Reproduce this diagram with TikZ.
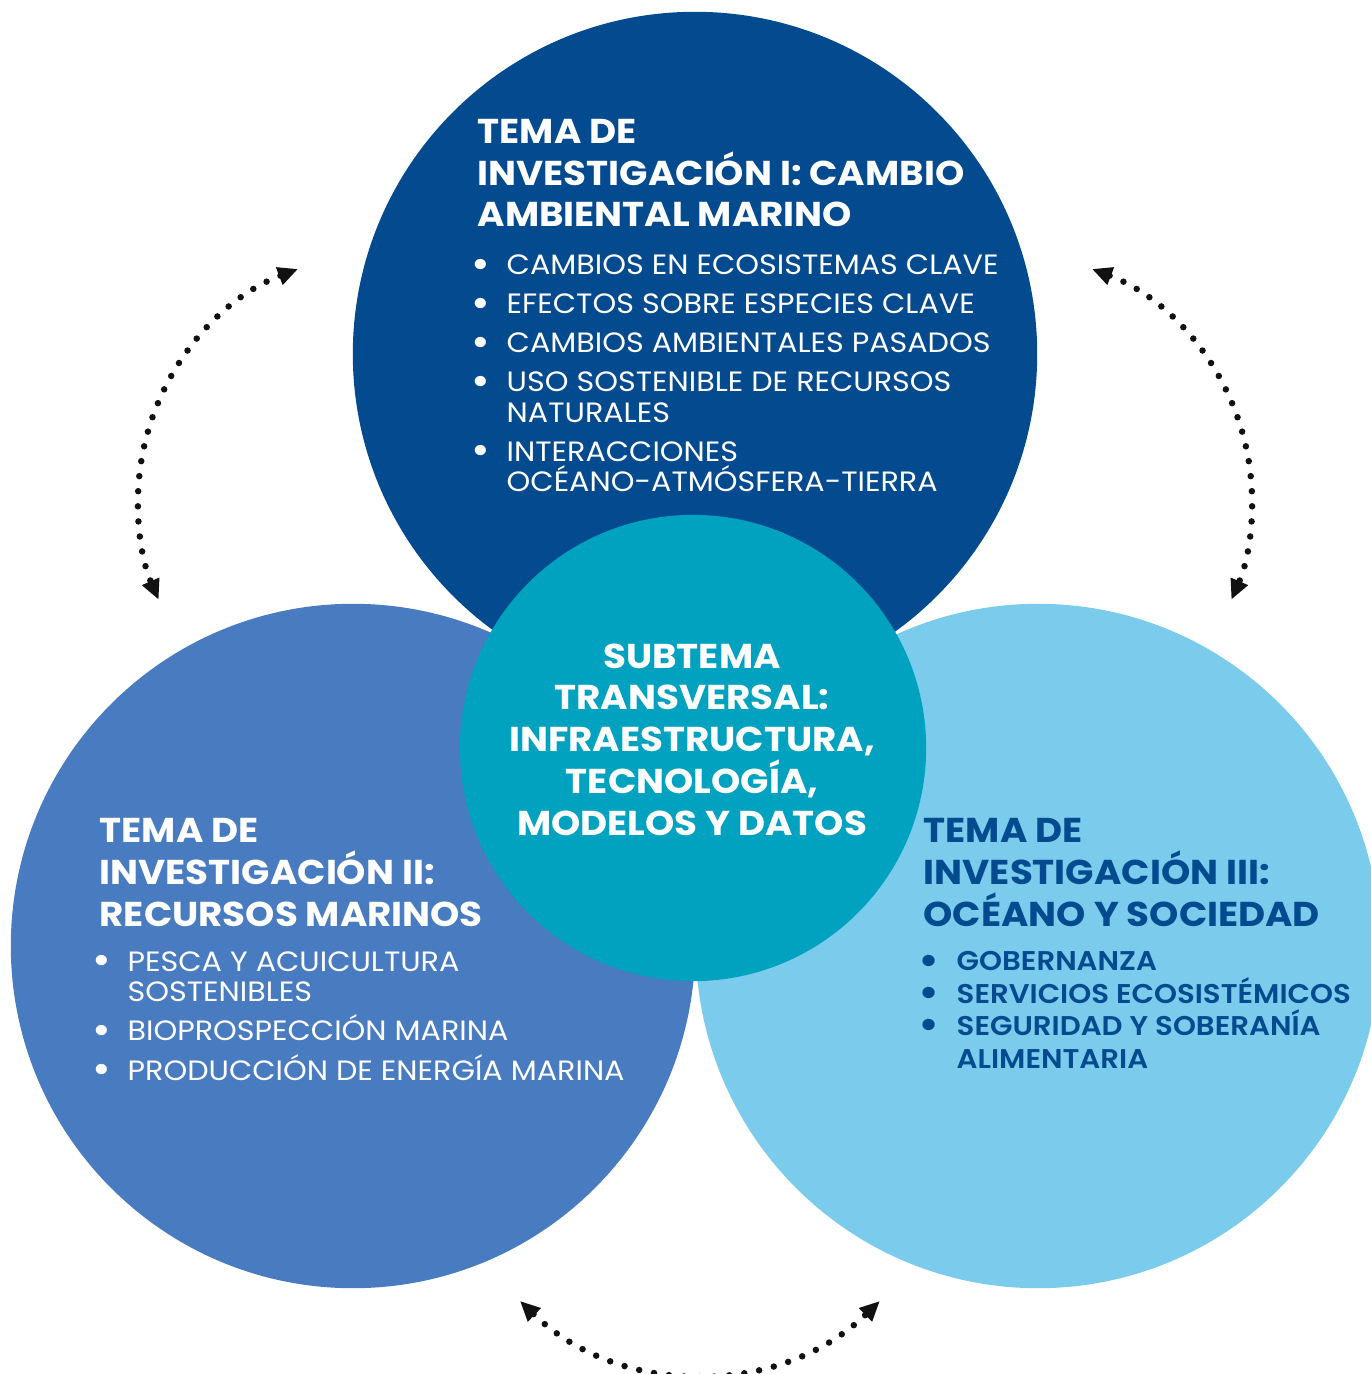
\documentclass[tikz,border=0pt]{standalone}
\usepackage{fontspec}
\setmainfont{Poppins}[FakeStretch=1.08]
\newfontfamily\semib{Poppins SemiBold}[FakeStretch=1.08]
\usetikzlibrary{arrows.meta}
\definecolor{temaI}{RGB}{3,74,142}
\definecolor{temaII}{RGB}{72,123,191}
\definecolor{temaIII}{RGB}{122,203,236}
\definecolor{subtema}{RGB}{0,162,192}
\definecolor{flecha}{RGB}{17,17,17}
\newcommand{\bul}{\llap{\raisebox{-0.12em}{\scalebox{1.5}{\textbullet}}\hspace{4.8pt}}}

\begin{document}
\begin{tikzpicture}[x=0.01cm, y=-0.01cm]
	\tikzstyle{every node} = [inner sep=0pt, align=left, anchor=base west]
	\tikzstyle{disco} = [circle, minimum size=6.84cm, anchor=center]
	\tikzstyle{titulo} = [font=\fontsize{9.8}{11.86}\selectfont\bfseries]
	\tikzstyle{lista} = [font=\fontsize{7.95}{8.7}\selectfont]
	\tikzstyle{puntos} = [flecha, line width=1.85pt, line cap=round, dash pattern=on 0pt off 4.3pt, {Triangle[length=5.7pt,width=5pt]}-{Triangle[length=5.7pt,width=5pt]}]
	\path[use as bounding box, clip] (0,0) rectangle (1371,1374);

	\node[disco, fill=temaI] (c1) at (695,354) {}; \node[disco, fill=temaII] (c2) at (353,946) {}; \node[disco, fill=temaIII] (c3) at (1038,946) {};
	\node[disco, minimum size=4.66cm, fill=subtema] (c0) at (693,748) {};

	\node[titulo, white] (t1) at (477,227) {TEMA DE\\INVESTIGACIÓN I: CAMBIO\\AMBIENTAL MARINO};
	\node[lista, white] (l1) at (506,492) {\bul CAMBIOS EN ECOSISTEMAS CLAVE\\[2.4pt] \bul EFECTOS SOBRE ESPECIES CLAVE\\[2.4pt] \bul CAMBIOS AMBIENTALES PASADOS\\[2.4pt] \bul USO SOSTENIBLE DE RECURSOS\\NATURALES\\[2.4pt] \bul INTERACCIONES\\OCÉANO-ATMÓSFERA-TIERRA};
	\node[titulo, white] (t2) at (99,926) {TEMA DE\\INVESTIGACIÓN II:\\RECURSOS MARINOS};
	\node[lista, white] (l2) at (127,1080) {\bul PESCA Y ACUICULTURA\\SOSTENIBLES\\[2.4pt] \bul BIOPROSPECCIÓN MARINA\\[2.4pt] \bul PRODUCCIÓN DE ENERGÍA MARINA};
	\node[titulo, temaI] (t3) at (923,926) {TEMA DE\\INVESTIGACIÓN III:\\OCÉANO Y SOCIEDAD};
	\node[lista, temaI, font=\fontsize{7.7}{9.2}\selectfont\semib] (l3) at (956,1068) {\bul GOBERNANZA\\\bul SERVICIOS ECOSISTÉMICOS\\\bul SEGURIDAD Y SOBERANÍA\\ALIMENTARIA};
	\node[titulo, white, align=center, anchor=base] (t0) at (692,835) {SUBTEMA\\TRANSVERSAL:\\INFRAESTRUCTURA,\\TECNOLOGÍA,\\MODELOS Y DATOS};

	\coordinate (a1) at (298,269); \coordinate (a2) at (1092,269); \coordinate (a3) at (520,1301);
	\draw[puntos] (a1) arc[start angle=249.2, end angle=156.5, radius=248];
	\draw[puntos] (a2) arc[start angle=-69.2, end angle=23.5, radius=248];
	\draw[puntos] (a3) arc[start angle=134, end angle=46, radius=259];
\end{tikzpicture}
\end{document}
